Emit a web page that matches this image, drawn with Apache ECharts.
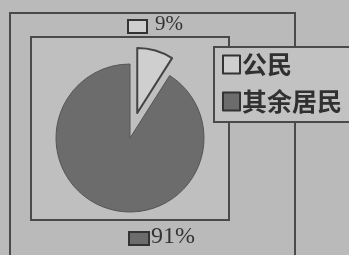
<!DOCTYPE html>
<html><head><meta charset="utf-8">
<script src="https://cdn.jsdelivr.net/npm/echarts@6/dist/echarts.min.js"></script>
<style>html,body{margin:0;padding:0;background:#bababa}#c{width:349px;height:255px}</style>
</head><body><div id="c"></div>
<script>
const categories = ['公民', '其余居民'];
const values = [9, 91];
const pctLabels = ['9%', '91%'];
const colors = ['#cfcfcf', '#6c6c6c'];

const chart = echarts.init(document.getElementById('c'), null, {renderer: 'canvas'});
const edge = '#4a4a4a';
const option = {
  backgroundColor: '#bababa',
  animation: false,
  legend: {
    orient: 'vertical', left: 214, top: 47,
    padding: [5, 30, 8, 8], itemGap: 12,
    itemWidth: 17, itemHeight: 18,
    backgroundColor: '#c2c2c2', borderColor: edge, borderWidth: 2,
    selectedMode: false,
    textStyle: {fontFamily: 'Noto Sans CJK SC', fontSize: 25, fontWeight: 'bold', color: '#303030', padding: [0,0,0,-3]},
    data: categories.map((n, i) => ({name: n, icon: 'rect', itemStyle: {color: colors[i], borderColor: '#333', borderWidth: 2}}))
  },
  graphic: [
    {type: 'rect', shape: {x: 10, y: 13, width: 285, height: 260}, style: {fill: 'none', stroke: edge, lineWidth: 2}, z: 0},
    {type: 'rect', shape: {x: 31, y: 37, width: 198, height: 183}, style: {fill: '#bfbfbf', stroke: edge, lineWidth: 2}, z: 0},
    {type: 'rect', shape: {x: 128, y: 20, width: 19, height: 13}, style: {fill: colors[0], stroke: '#333', lineWidth: 2}, z: 5},
    {type: 'text', left: 155, top: 14, style: {text: pctLabels[0], font: '21px "Liberation Serif"', fill: '#333'}, z: 5},
    {type: 'rect', shape: {x: 129, y: 232, width: 20, height: 13}, style: {fill: colors[1], stroke: '#333', lineWidth: 2}, z: 5},
    {type: 'text', left: 151, top: 225, style: {text: pctLabels[1], font: '24px "Liberation Serif"', fill: '#333'}, z: 5}
  ],
  series: [
    {
      type: 'pie', center: [130, 138], radius: 74, startAngle: 90,
      label: {show: false}, emphasis: {disabled: true}, silent: true,
      data: categories.map((n, i) => ({name: n, value: values[i],
        itemStyle: i === 0 ? {color: 'rgba(0,0,0,0)', borderWidth: 0} : {color: colors[1], borderColor: '#555', borderWidth: 1}}))
    },
    {
      type: 'pie', center: [130, 138], radius: 65, startAngle: 90,
      selectedMode: 'single', selectedOffset: 26,
      label: {show: false}, emphasis: {disabled: true}, silent: true,
      data: categories.map((n, i) => ({name: n, value: values[i], selected: i === 0,
        itemStyle: i === 0 ? {color: colors[0], borderColor: '#444', borderWidth: 2} : {color: 'rgba(0,0,0,0)', borderWidth: 0}}))
    }
  ]
};
chart.setOption(option);
</script></body></html>
